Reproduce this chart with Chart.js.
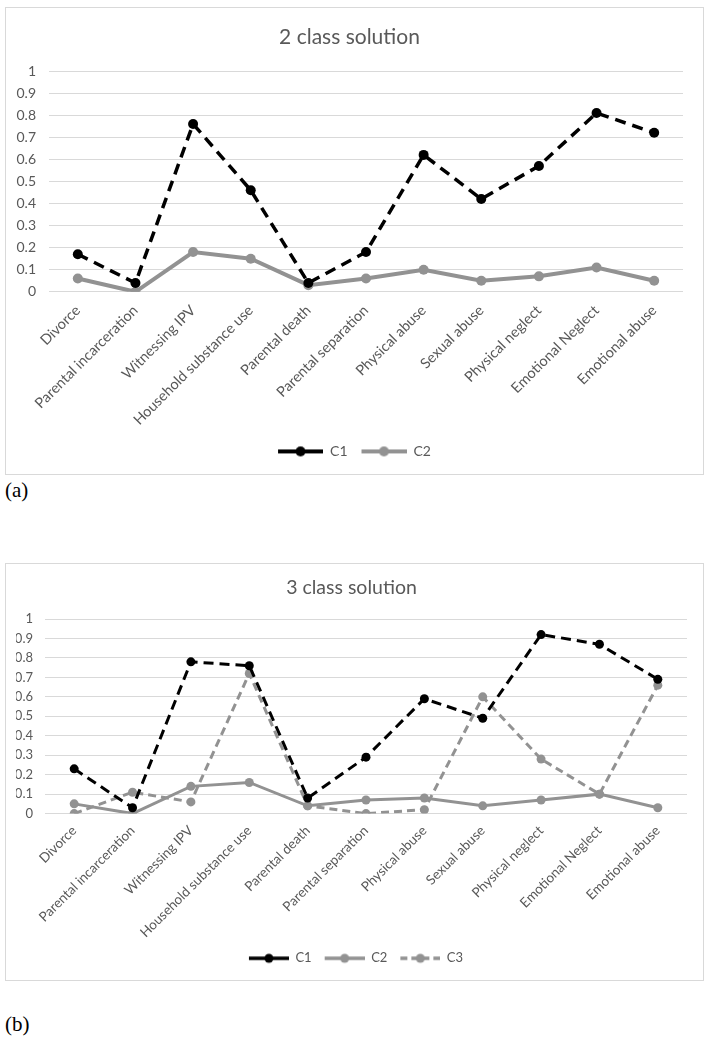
<!DOCTYPE html>
<html>
<head>
<meta charset="utf-8">
<script src="https://cdn.jsdelivr.net/npm/chart.js@4.4.1/dist/chart.umd.min.js"></script>
<style>
  body { margin: 0; background: #fff; width: 710px; height: 1043px; position: relative; overflow: hidden; }
  .box { position: absolute; border: 1px solid #d9d9d9; background: #fff; }
  .box canvas { display: block; }
  .tag { position: absolute; font-family: "Liberation Serif", serif; font-size: 21px; color: #000; }
</style>
</head>
<body>
<div class="box" style="left:5px; top:7px; width:697px; height:466px;">
  <canvas id="chartA" width="697" height="466"></canvas>
</div>
<div class="tag" style="left:5px; top:478px;">(a)</div>

<div class="box" style="left:5px; top:563px; width:697px; height:416px;">
  <canvas id="chartB" width="697" height="416"></canvas>
</div>
<div class="tag" style="left:5px; top:1012px;">(b)</div>

<script>
const categories = ['Divorce', 'Parental incarceration', 'Witnessing IPV', 'Household substance use',
  'Parental death', 'Parental separation', 'Physical abuse', 'Sexual abuse', 'Physical neglect',
  'Emotional Neglect', 'Emotional abuse'];

// 2 class solution
const twoC1 = [0.17, 0.04, 0.76, 0.46, 0.04, 0.18, 0.62, 0.42, 0.57, 0.81, 0.72];
const twoC2 = [0.06, 0.00, 0.18, 0.15, 0.03, 0.06, 0.10, 0.05, 0.07, 0.11, 0.05];

// 3 class solution
const threeC1 = [0.23, 0.03, 0.78, 0.76, 0.08, 0.29, 0.59, 0.49, 0.92, 0.87, 0.69];
const threeC2 = [0.05, 0.00, 0.14, 0.16, 0.04, 0.07, 0.08, 0.04, 0.07, 0.10, 0.03];
const threeC3 = [0.00, 0.11, 0.06, 0.72, 0.04, 0.00, 0.02, 0.60, 0.28, 0.10, 0.66];

const textGrey = '#595959';
const black = '#000000';
const grey = '#929292';
const font = 'Lato, "Open Sans", sans-serif';

// legend picture: empty margin on the left, then line with a marker
function legendIcon(color, dash, len, margin, lw, r) {
  const c = document.createElement('canvas');
  c.width = len + margin; c.height = 12;
  const g = c.getContext('2d');
  g.strokeStyle = color;
  g.lineWidth = lw;
  g.setLineDash(dash);
  g.beginPath();
  g.moveTo(margin, 6); g.lineTo(margin + len, 6);
  g.stroke();
  g.fillStyle = color;
  g.beginPath();
  g.arc(margin + len / 2, 6, r, 0, Math.PI * 2);
  g.fill();
  return c;
}

function series(label, data, color, dash, lw, r) {
  return {
    label, data,
    borderColor: color,
    backgroundColor: color,
    borderWidth: lw,
    borderDash: dash,
    pointRadius: r,
    pointBackgroundColor: color,
    pointBorderWidth: 0,
    tension: 0,
    fill: false
  };
}

function makeChart(id, title, datasets, icons, o) {
  return new Chart(document.getElementById(id), {
    type: 'line',
    data: { labels: categories, datasets },
    options: {
      responsive: false,
      animation: false,
      layout: { padding: { left: o.padLeft, right: o.padRight, top: 0, bottom: o.padBottom } },
      plugins: {
        title: {
          display: true, text: title, color: textGrey,
          font: { family: font, size: o.titleSize, weight: 'normal' },
          padding: o.titlePad
        },
        legend: {
          position: 'bottom',
          labels: {
            color: textGrey,
            font: { family: font, size: o.legendSize },
            usePointStyle: true,
            pointStyleWidth: icons[0].width,
            padding: 4,
            generateLabels(chart) {
              const items = Chart.defaults.plugins.legend.labels.generateLabels(chart);
              items.forEach((it, i) => { it.pointStyle = icons[i]; });
              return items;
            }
          }
        },
        tooltip: { enabled: false }
      },
      scales: {
        x: {
          offset: true,
          grid: { display: false },
          border: { display: false },
          afterFit(scale) { scale.height = o.xHeight; },
          ticks: {
            color: textGrey, font: { family: font, size: o.xSize },
            minRotation: 45, maxRotation: 45, autoSkip: false, padding: o.xPad
          }
        },
        y: {
          min: 0, max: 1,
          grid: { color: '#d9d9d9', lineWidth: 1, drawTicks: false },
          border: { display: false },
          afterFit(scale) { scale.width = o.yWidth; },
          ticks: {
            stepSize: 0.1, autoSkip: false,
            color: textGrey, font: { family: font, size: o.ySize }, padding: o.yPad,
            callback: v => String(+v.toFixed(1))
          }
        }
      }
    }
  });
}

makeChart('chartA', '2 class solution', [
  series('C1', twoC1, black, [11, 7], 3.5, 5),
  series('C2', twoC2, grey, [], 4, 5)
], [legendIcon(black, [], 45, 10, 4, 5), legendIcon(grey, [], 45, 10, 4, 5)], {
  padLeft: 10, padRight: 20, padBottom: 5.6,
  titleSize: 21, titlePad: { top: 16.4, bottom: 21.4 },
  legendSize: 14,
  xHeight: 148.6, xSize: 14.5, xPad: 2,
  yWidth: 33, yPad: 13, ySize: 14
});

makeChart('chartB', '3 class solution', [
  series('C1', threeC1, black, [10, 6], 3, 4.5),
  series('C2', threeC2, grey, [], 3, 4.5),
  series('C3', threeC3, grey, [8, 5], 3, 4.5)
], [legendIcon(black, [], 40, 9, 3.5, 4.5), legendIcon(grey, [], 40, 9, 3.5, 4.5), legendIcon(grey, [7, 4], 40, 9, 3.5, 4.5)], {
  padLeft: 10, padRight: 16, padBottom: 5.2,
  titleSize: 19.5, titlePad: { top: 12.3, bottom: 19.3 },
  legendSize: 13,
  xHeight: 134.2, xSize: 13.5, xPad: 1,
  yWidth: 29, yPad: 12, ySize: 13
});
</script>
</body>
</html>
